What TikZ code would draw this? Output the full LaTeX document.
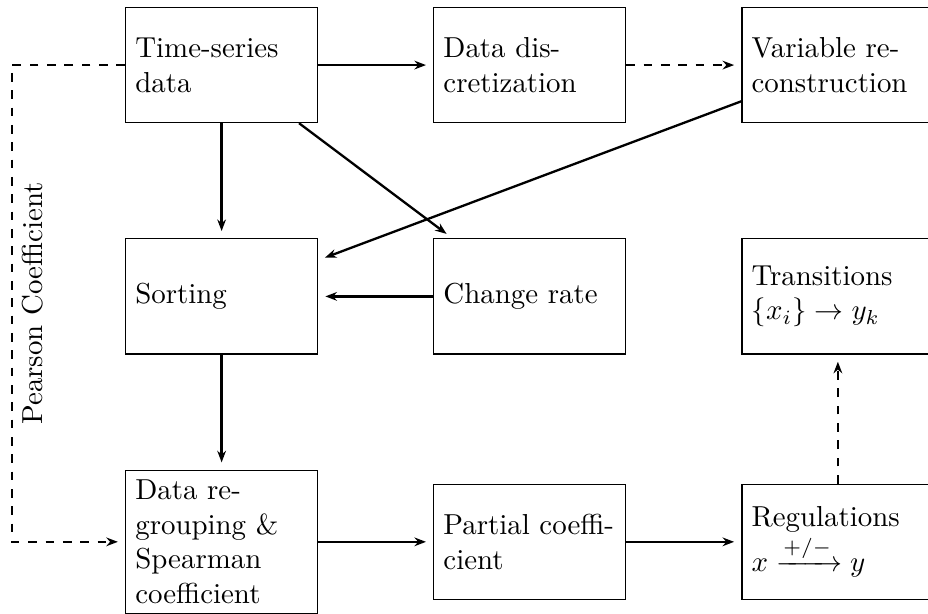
\documentclass[tikz,border=0pt]{standalone}
\usepackage{amsmath, amssymb}
\usepackage{tikz}
\usetikzlibrary{positioning, arrows.meta}

\begin{document}
\begin{tikzpicture}[node distance=1.4cm,
  box/.style={draw, text width=2.1cm, align=left, minimum height=1.4cm},
  arr/.style={thick, -{Stealth[length=4pt, width=3pt]}, shorten >=2.5pt},
  darr/.style={arr, dashed}]
 \useasboundingbox (-43.3pt,2.4pt) rectangle (277.9pt,-209.8pt);

 \node[box, anchor=north west] (tsdata) at (0,0) {Time-series data};
 \node[box, right=of tsdata] (discr) {Data discretization};
 \node[box, right=of discr] (varrec) {Variable reconstruction};
 \node[box, below=of tsdata] (sorting) {Sorting};
 \node[box, right=of sorting] (chrate) {Change rate};
 \node[box, right=of chrate] (trans) {Transitions\\ $\{x_i\} \to y_k$};
 \node[box, below=of sorting] (regroup) {Data regrouping \& Spearman coefficient};
 \node[box, right=of regroup] (partial) {Partial coefficient};
 \node[box, right=of partial] (regul) {Regulations\\ $x \xrightarrow{+/-} y$};

 %connectors
 \draw[arr] (tsdata) -- (discr);
 \draw[darr] (discr) -- (varrec);
 \draw[arr] (tsdata) -- (sorting);
 \draw[arr] (tsdata) -- (chrate);
 \draw[arr] (varrec) -- (sorting);
 \draw[arr] (chrate) -- (sorting);
 \draw[arr] (sorting) -- (regroup);
 \draw[arr] (regroup) -- (partial);
 \draw[arr] (partial) -- (regul);
 \draw[darr] (regul) -- (trans);
 \draw[darr] (tsdata.west) -- ++(-1.38,0) |- (regroup.west) node[pos=0.25, below, rotate=90] {Pearson Coefficient};
\end{tikzpicture}
\end{document}
